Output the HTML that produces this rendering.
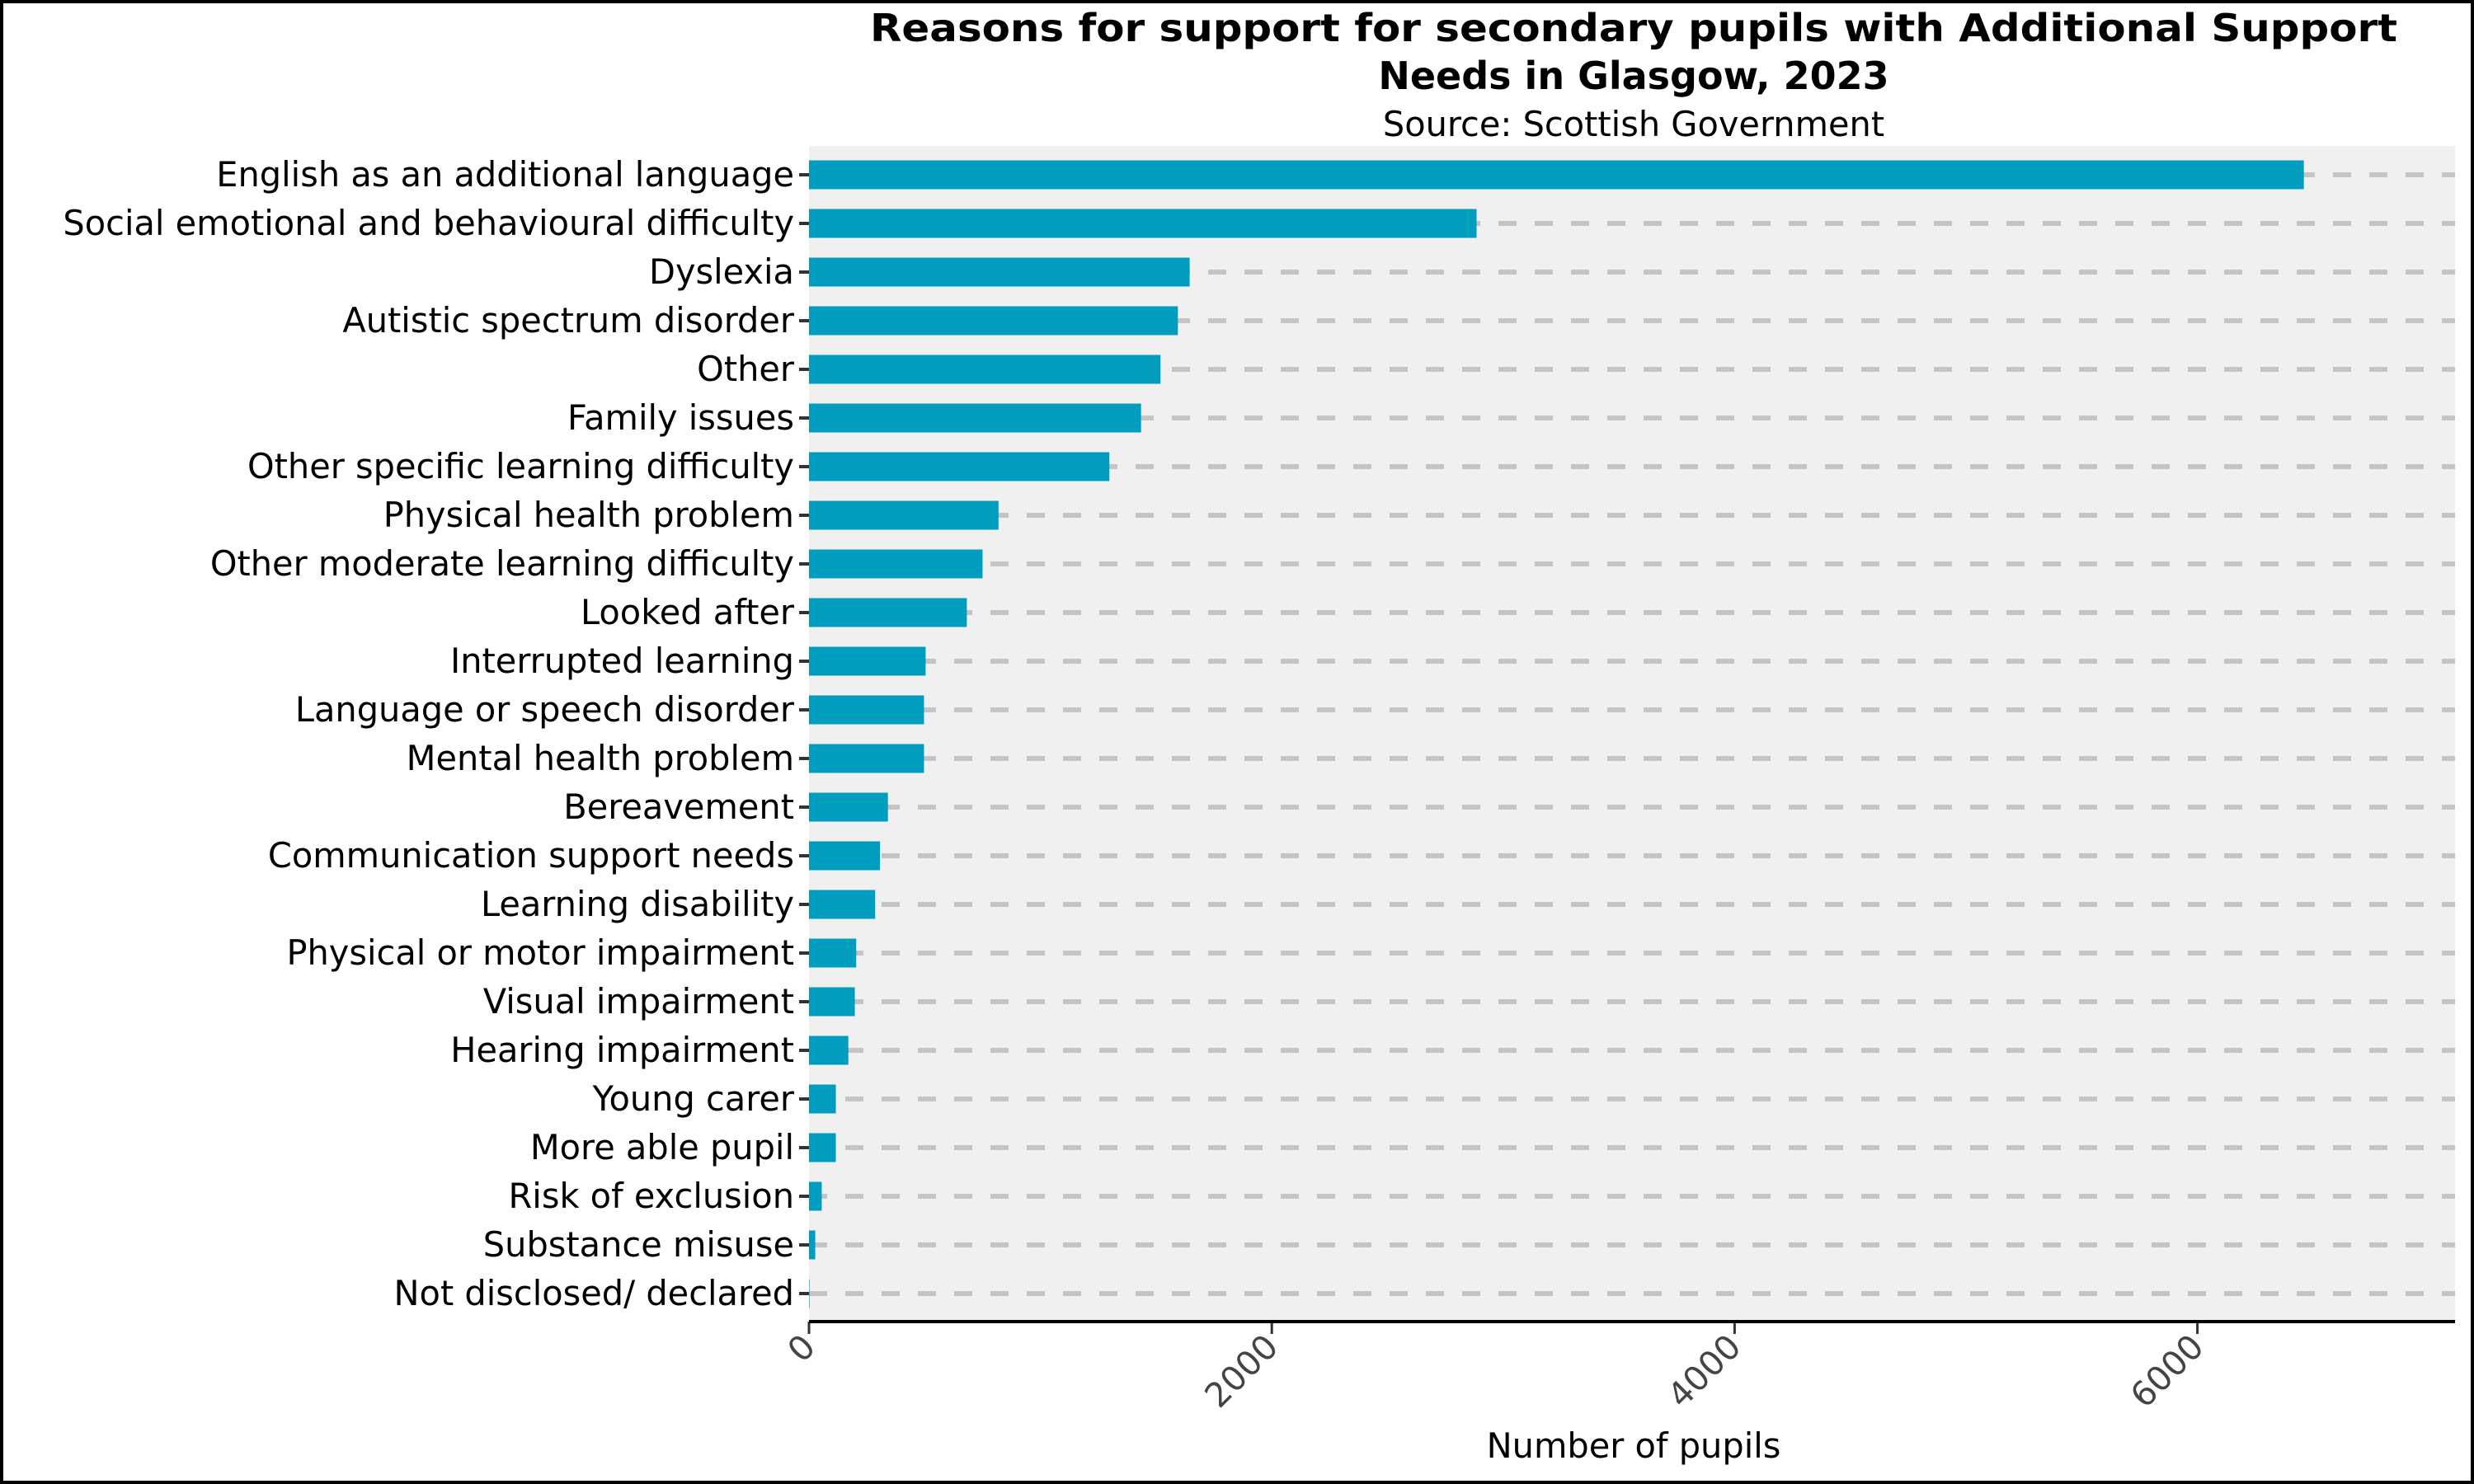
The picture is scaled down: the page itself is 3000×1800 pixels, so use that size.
<!DOCTYPE html>
<html><head><meta charset="utf-8"><style>
body{margin:0;background:#fff}
svg{display:block;font-family:"DejaVu Sans","Liberation Sans",sans-serif}
</style></head><body>
<svg id="chart" width="3000" height="1800" viewBox="0 0 3000 1800" xmlns="http://www.w3.org/2000/svg">
<rect x="2" y="2" width="2996" height="1796" fill="#fff" stroke="#000" stroke-width="4"/>
<text x="1981" y="50" text-anchor="middle" font-size="46" font-weight="bold" textLength="1852" lengthAdjust="spacingAndGlyphs">Reasons for support for secondary pupils with Additional Support</text>
<text x="1981" y="108" text-anchor="middle" font-size="46" font-weight="bold">Needs in Glasgow, 2023</text>
<text x="1981" y="165" text-anchor="middle" font-size="41.5">Source: Scottish Government</text>
<rect x="981" y="177" width="1996" height="1426" fill="#f0f0f0"/>
<g id="grid"></g><g id="bars"></g><g id="ylabels"></g><g id="xticks"></g>
<line x1="981" y1="1603" x2="2977" y2="1603" stroke="#000" stroke-width="4"/>
<text x="1981" y="1768" text-anchor="middle" font-size="41.5">Number of pupils</text>
</svg>
<script>
const categories = ["English as an additional language","Social emotional and behavioural difficulty","Dyslexia","Autistic spectrum disorder","Other","Family issues","Other specific learning difficulty","Physical health problem","Other moderate learning difficulty","Looked after","Interrupted learning","Language or speech disorder","Mental health problem","Bereavement","Communication support needs","Learning disability","Physical or motor impairment","Visual impairment","Hearing impairment","Young carer","More able pupil","Risk of exclusion","Substance misuse","Not disclosed/ declared"];
const values = [6460,2885,1645,1594,1519,1435,1298,819,750,682,504,497,497,341,307,286,204,198,170,116,116,55,27,2];
const xTicks = [0,2000,4000,6000];
const NS="http://www.w3.org/2000/svg";
const x0=981, pxPer=0.2806, xMax=2977;
const xs=v=>x0+v*pxPer;
const y0=212, step=59, bh=35;
const ys=i=>y0+i*step;
function mk(t,a,p){const e=document.createElementNS(NS,t);for(const k in a)e.setAttribute(k,a[k]);p.appendChild(e);return e;}
const grid=document.getElementById('grid'),bars=document.getElementById('bars'),yl=document.getElementById('ylabels'),xt=document.getElementById('xticks');
categories.forEach((c,i)=>{
  const y=ys(i);
  const g=mk('line',{x1:x0,y1:y,x2:xMax,y2:y,stroke:'#c4c4c4','stroke-width':6,'stroke-dasharray':'22 22'},grid);
  
  
  const b=mk('rect',{x:x0,y:y-bh/2,width:Math.max(0,xs(values[i])-x0),height:bh,fill:'#019dbf'},bars);
  
  
  const tk=mk('line',{x1:x0-12,y1:y,x2:x0,y2:y,stroke:'#333','stroke-width':4},yl);
  
  
  const t=mk('text',{x:x0-18,y:y+14,'text-anchor':'end','font-size':41.5,fill:'#000'},yl);
  t.textContent=c;
  
  
});
xTicks.forEach(v=>{
  const x=xs(v);
  const tk=mk('line',{x1:x,y1:1603,x2:x,y2:1618,stroke:'#333','stroke-width':3},xt);
  
  
  const t=mk('text',{x:x+10,y:1636,'text-anchor':'end','font-size':41,fill:'#444',transform:'rotate(-45 '+(x+10)+' 1636)'},xt);
  t.textContent=v;
  
  
});
</script>
</body></html>
